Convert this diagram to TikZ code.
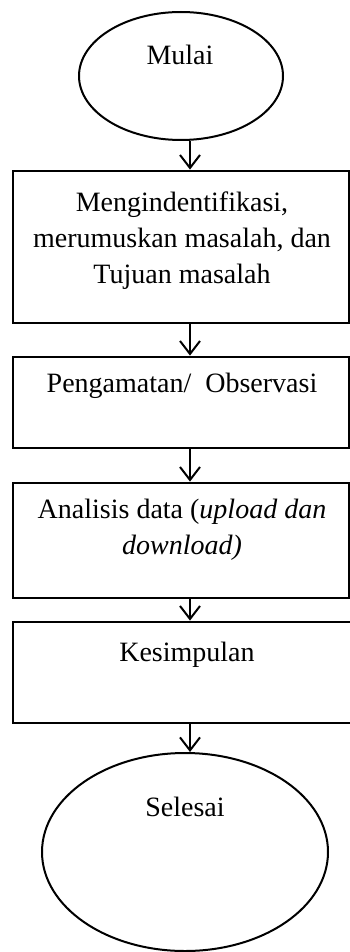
\documentclass[tikz,border=0pt]{standalone}
\usepackage{fontspec}
\setmainfont{Liberation Serif}
\usetikzlibrary{arrows.meta,shapes.geometric}
\begin{document}
\begin{tikzpicture}[x=1pt,y=-1pt,
  flowbox/.style={draw,line width=2.8pt,rectangle,inner sep=0pt,minimum width=336pt},
  term/.style={draw,line width=2pt,ellipse,inner sep=0pt},
  lbl/.style={inner sep=0pt,font=\fontsize{28}{36}\selectfont,align=center},
  arr/.style={line width=2pt,-{Straight Barb[length=13pt,width=20pt,line width=2pt]}}]
\useasboundingbox (0,0) rectangle (350,952);
\clip (0,0) rectangle (350,952);
% shapes
\node[term,minimum width=204pt,minimum height=128pt] (start) at (181,76) {};
\node[flowbox,minimum height=152pt] (b1) at (181,247) {};
\node[flowbox,minimum height=91pt] (b2) at (181,402.5) {};
\node[flowbox,minimum height=115pt] (b3) at (181,540.5) {};
\node[flowbox,minimum height=101pt,minimum width=340pt] (b4) at (183,672.5) {};
\node[term,minimum width=286pt,minimum height=198pt] (stop) at (185,852) {};
% texts
\node[lbl,anchor=base] (t0) at (180,65) {Mulai};
\node[lbl,anchor=north] (t1) at (182,192) {Mengindentifikasi,\\merumuskan masalah, dan\\Tujuan masalah};
\node[lbl,anchor=base] (t2) at (182,392) {Pengamatan/\ \ Observasi};
\node[lbl,anchor=north] (t3) at (182,499) {Analisis data (\textit{upload dan}\\\textit{download)}};
\node[lbl,anchor=base] (t4) at (187,661) {Kesimpulan};
\node[lbl,anchor=base] (t5) at (185,816) {Selesai};
% connectors
\draw[arr] ([xshift=9pt]start.south) -- ([xshift=9pt]b1.north);
\draw[arr] ([xshift=9pt]b1.south) -- ([xshift=9pt]b2.north);
\draw[arr] ([xshift=9pt]b2.south) -- ([xshift=9pt]b3.north);
\draw[arr] ([xshift=9pt]b3.south) -- ([xshift=7pt]b4.north);
\draw[arr] ([xshift=7pt]b4.south) -- ([xshift=5pt]stop.north);
\end{tikzpicture}
\end{document}
